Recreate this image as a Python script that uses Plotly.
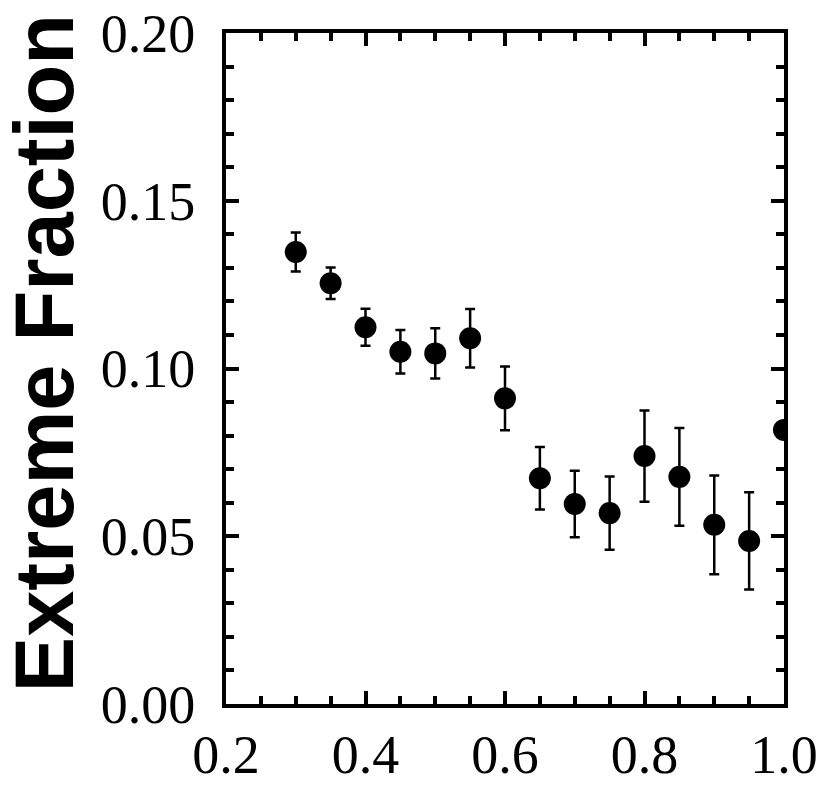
import plotly.graph_objects as go

x_vals = [0.30, 0.35, 0.40, 0.45, 0.50, 0.55, 0.60, 0.65, 0.70, 0.75, 0.80, 0.85, 0.90, 0.95, 1.00]
y_vals = [0.1347, 0.1254, 0.1123, 0.1050, 0.1045, 0.1090, 0.0911, 0.0673, 0.0596, 0.0569, 0.0739, 0.0677, 0.0534, 0.0486, 0.0817]
y_err = [0.0058, 0.0047, 0.0055, 0.0065, 0.0075, 0.0087, 0.0095, 0.0093, 0.0099, 0.0109, 0.0136, 0.0146, 0.0147, 0.0145, 0.0]

x_ticks = [0.2, 0.4, 0.6, 0.8, 1.0]
x_tick_labels = ["0.2", "0.4", "0.6", "0.8", "1.0"]
y_ticks = [0.00, 0.05, 0.10, 0.15, 0.20]
y_tick_labels = ["0.00", "0.05", "0.10", "0.15", "0.20"]
y_title = "Extreme Fraction"

fig = go.Figure()
fig.add_trace(go.Scatter(
    x=x_vals, y=y_vals, mode="markers",
    marker=dict(color="black", size=22),
    error_y=dict(type="data", array=y_err, visible=True, color="black", thickness=2.5, width=5),
    cliponaxis=True,
))

tick_font = dict(family="Liberation Serif", size=54, color="black")
axis_common = dict(
    showline=True, linecolor="black", linewidth=4, mirror="allticks",
    ticks="inside", ticklen=13, tickwidth=4, tickcolor="black",
    showgrid=False, zeroline=False, tickfont=tick_font, automargin=False,
)

fig.update_xaxes(
    range=[0.2, 1.0], tickvals=x_ticks, ticktext=x_tick_labels,
    minor=dict(dtick=0.05, ticks="inside", ticklen=8, tickwidth=4, tickcolor="black", showgrid=False),
    ticklabelstandoff=0,
    **axis_common,
)
fig.update_yaxes(
    range=[0.0, 0.2], tickvals=y_ticks, ticktext=y_tick_labels,
    minor=dict(dtick=0.01, ticks="inside", ticklen=8, tickwidth=4, tickcolor="black", showgrid=False),
    ticklabelstandoff=16,
    **axis_common,
)

fig.add_annotation(
    text=y_title, textangle=-90, showarrow=False,
    xref="paper", yref="paper", x=-0.326, y=0.523,
    xanchor="center", yanchor="middle",
    font=dict(family="Liberation Sans", size=83, color="black", weight="bold"),
)

fig.update_layout(
    width=825, height=785,
    margin=dict(l=226, r=41, t=33, b=81, autoexpand=False),
    paper_bgcolor="white", plot_bgcolor="white",
    showlegend=False,
)

fig.write_html("out.html")
